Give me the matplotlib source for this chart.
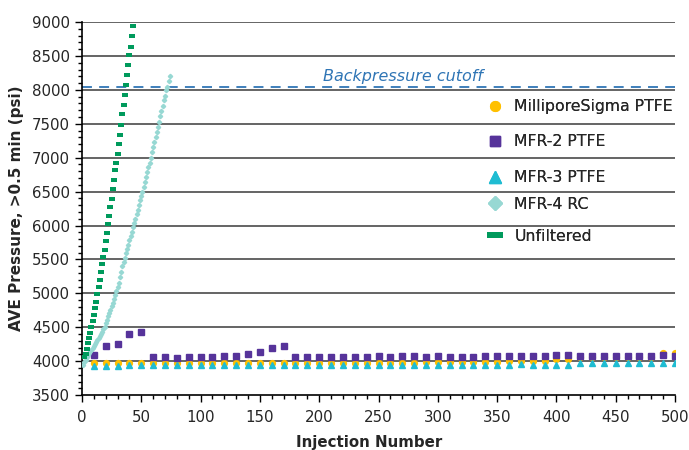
import matplotlib
matplotlib.use("Agg")
import matplotlib.pyplot as plt
from matplotlib.lines import Line2D
from matplotlib.ticker import MultipleLocator

# ---- data -------------------------------------------------------------
inj_10 = list(range(10, 501, 10))

millipore = [3970, 3972, 3972, 3975, 3975, 3975, 3975, 3972, 3972, 3972,
             3972, 3972, 3972, 3972, 3972, 3972, 3975, 3975, 3975, 3975,
             3975, 3975, 3975, 3975, 3975, 3978, 3980, 3980, 3982, 3985,
             3985, 3988, 3990, 3995, 3995, 3998, 4005, 4010, 4010, 4035,
             4030, 4055, 4060, 4060, 4065, 4065, 4060, 4060, 4120, 4122]

mfr2 = [4090, 4225, 4255, 4400, 4430, 4062, 4062, 4041, 4062, 4062,
        4062, 4077, 4077, 4106, 4136, 4195, 4224, 4062, 4062, 4062,
        4062, 4062, 4062, 4062, 4077, 4062, 4077, 4077, 4062, 4077,
        4062, 4062, 4062, 4077, 4077, 4077, 4077, 4077, 4077, 4091,
        4091, 4077, 4077, 4077, 4077, 4077, 4077, 4077, 4091, 4077]

mfr3 = [3930, 3930, 3930, 3940, 3948, 3948, 3948, 3940, 3948, 3945,
        3948, 3948, 3948, 3948, 3945, 3948, 3948, 3948, 3948, 3948,
        3948, 3948, 3948, 3948, 3948, 3948, 3948, 3948, 3948, 3948,
        3948, 3948, 3948, 3948, 3948, 3948, 3955, 3948, 3948, 3948,
        3948, 3970, 3970, 3970, 3970, 3970, 3970, 3970, 3970, 3970]

mfr4_inj = list(range(1, 75))
mfr4 = [3950, 3985, 4020, 4060, 4090, 4115, 4145, 4170, 4200, 4225,
        4250, 4280, 4305, 4335, 4365, 4395, 4430, 4470, 4510, 4560,
        4610, 4660, 4710, 4760, 4810, 4860, 4920, 4975, 5030, 5090,
        5160, 5240, 5320, 5400, 5460, 5520, 5590, 5650, 5720, 5780,
        5850, 5910, 5980, 6040, 6100, 6170, 6230, 6300, 6370, 6437,
        6490, 6574, 6647, 6717, 6790, 6864, 6928, 7001, 7080, 7164,
        7227, 7301, 7385, 7459, 7522, 7610, 7684, 7768, 7846, 7916,
        7994, 8044, 8133, 8211]

unf_inj = list(range(2, 44))
unfiltered = [4065, 4110, 4175, 4268, 4342, 4416, 4504, 4587, 4686, 4785,
              4873, 4991, 5094, 5192, 5310, 5438, 5540, 5645, 5770, 5895,
              6020, 6145, 6270, 6397, 6540, 6673, 6820, 6923, 7056, 7204,
              7336, 7478, 7646, 7779, 7926, 8074, 8221, 8369, 8516, 8634,
              8801, 8948]

backpressure_cutoff = 8040

labels = ["MilliporeSigma PTFE", "MFR-2 PTFE", "MFR-3 PTFE", "MFR-4 RC", "Unfiltered"]

# ---- style ------------------------------------------------------------
C_YEL = "#FFC000"
C_PUR = "#56339A"
C_CYA = "#1FBCD2"
C_TEAL = "#97D8D3"
C_GRN = "#009A5C"
C_BLUE = "#2F75B5"
TXT = "#262626"

plt.rcParams["font.family"] = ["DejaVu Sans"]

fig = plt.figure(figsize=(6.89, 4.5), dpi=100)
ax = fig.add_axes([0.119, 0.122, 0.8607, 0.829])

bar_marker = [(-1.0, -0.55), (1.0, -0.55), (1.0, 0.55), (-1.0, 0.55)]

ax.plot(inj_10, millipore, ls="none", marker="o", ms=4.2, mfc=C_YEL, mec=C_YEL, zorder=3)
ax.plot(inj_10, mfr2, ls="none", marker="s", ms=3.8, mfc=C_PUR, mec=C_PUR, zorder=4)
ax.plot(inj_10, mfr3, ls="none", marker="^", ms=4.3, mfc=C_CYA, mec=C_CYA, zorder=5)
ax.plot(mfr4_inj, mfr4, ls="none", marker="D", ms=2.2, mfc=C_TEAL, mec=C_TEAL, zorder=6)
ax.plot(unf_inj, unfiltered, ls="none", marker=bar_marker, ms=4.3, mfc=C_GRN, mec=C_GRN,
        mew=0, zorder=7)

# cutoff line and its label
ax.axhline(backpressure_cutoff, color=C_BLUE, ls=(0, (5.5, 4)), lw=1.3, zorder=2.5)
ax.text(271, backpressure_cutoff + 45, "Backpressure cutoff", color=C_BLUE,
        style="italic", fontsize=11.5, ha="center", va="bottom")

# axes
ax.set_xlim(0, 500)
ax.set_ylim(3500, 9000)
ax.xaxis.set_major_locator(MultipleLocator(50))
ax.xaxis.set_minor_locator(MultipleLocator(10))
ax.yaxis.set_major_locator(MultipleLocator(500))
ax.yaxis.set_minor_locator(MultipleLocator(100))
ax.tick_params(which="both", direction="out", colors="black", labelcolor=TXT,
               labelsize=10.8, width=1)
ax.tick_params(which="major", length=5)
ax.tick_params(which="minor", length=3)
ax.tick_params(axis="x", pad=6)

for s in ("top", "right"):
    ax.spines[s].set_visible(False)
for s in ("left", "bottom"):
    ax.spines[s].set_color("black")
    ax.spines[s].set_linewidth(1.2)

for yv in range(4000, 9001, 500):
    ax.axhline(yv, color="#3a3a3a", lw=1.1, zorder=1)

ax.set_xlabel("Injection Number", fontsize=10.8, fontweight="bold", color=TXT)
ax.xaxis.set_label_coords(0.485, -0.108)
ax.set_ylabel("AVE Pressure, >0.5 min (psi)", fontsize=11, fontweight="bold",
              color=TXT, labelpad=6)

# legend entries, one per series
handles = [
    Line2D([], [], ls="none", marker="o", ms=7, mfc=C_YEL, mec=C_YEL),
    Line2D([], [], ls="none", marker="s", ms=7.5, mfc=C_PUR, mec=C_PUR),
    Line2D([], [], ls="none", marker="^", ms=8, mfc=C_CYA, mec=C_CYA),
    Line2D([], [], ls="none", marker="D", ms=7.5, mfc=C_TEAL, mec=C_TEAL),
    Line2D([], [], ls="none", marker=[(-1.0, -0.4), (1.0, -0.4), (1.0, 0.4), (-1.0, 0.4)],
           ms=11, mfc=C_GRN, mec=C_GRN, mew=0),
]
legend_y_px = [107, 142, 178, 204, 236]
W, H = 689, 450
for h, lab, ypx in zip(handles, labels, legend_y_px):
    lg = fig.legend([h], [lab], loc="center left", frameon=False, fontsize=11.3,
                    bbox_to_anchor=(487 / W, 1 - ypx / H), handlelength=1.0,
                    handletextpad=0.75, borderpad=0, borderaxespad=0,
                    labelcolor=TXT)
    fig.add_artist(lg)

fig.savefig("out.png", dpi=100)
